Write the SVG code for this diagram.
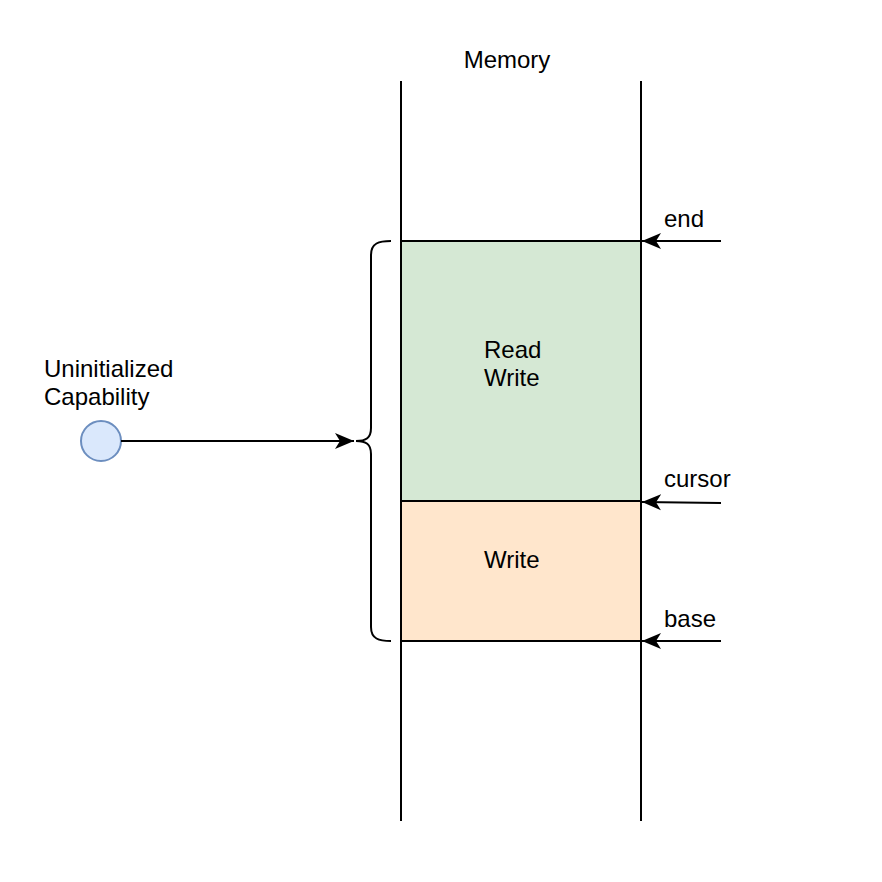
<svg xmlns="http://www.w3.org/2000/svg" width="882" height="882" viewBox="0 0 882 882">
<style>
text{font-family:"Liberation Sans",Arial,sans-serif;font-size:24px;fill:#000}
.ln{stroke:#000;stroke-width:2;fill:none}
</style>
<defs>
<marker id="ah" markerUnits="userSpaceOnUse" markerWidth="20" markerHeight="18" refX="19" refY="9" orient="auto">
<path d="M0,1 L19,9 L0,17 L5,9 Z" fill="#000"/>
</marker>
</defs>
<rect width="882" height="882" fill="#fff"/>
<g id="memory">
<line class="ln" x1="401" y1="81" x2="401" y2="821"/>
<line class="ln" x1="641" y1="81" x2="641" y2="821"/>
<text x="507" y="68" text-anchor="middle">Memory</text>
</g>
<g id="readwrite">
<rect x="401" y="241" width="240" height="260" fill="#d5e8d4" stroke="#000" stroke-width="2"/>
<text x="484" y="358">Read</text>
<text x="484" y="386">Write</text>
</g>
<g id="write">
<rect x="401" y="501" width="240" height="140" fill="#ffe6cc" stroke="#000" stroke-width="2"/>
<text x="484" y="568">Write</text>
</g>
<g id="brace">
<path class="ln" d="M391,241 C379,241 371,243 371,255 L371,428 C371,438 366,441 356,441 C366,441 371,444 371,454 L371,627 C371,639 379,641 391,641"/>
</g>
<g id="capability">
<circle cx="101" cy="441" r="20" fill="#dae8fc" stroke="#6c8ebf" stroke-width="2"/>
<text x="44" y="377">Uninitialized</text>
<text x="44" y="405">Capability</text>
</g>
<g id="labels">
<text x="664" y="227">end</text>
<text x="664" y="487">cursor</text>
<text x="664" y="627">base</text>
</g>
<g id="connectors">
<line class="ln" x1="121" y1="441" x2="354" y2="441" marker-end="url(#ah)"/>
<line class="ln" x1="721" y1="241" x2="642" y2="241" marker-end="url(#ah)"/>
<line class="ln" x1="721" y1="503" x2="642" y2="502" marker-end="url(#ah)"/>
<line class="ln" x1="721" y1="641" x2="642" y2="641" marker-end="url(#ah)"/>
</g>
</svg>
